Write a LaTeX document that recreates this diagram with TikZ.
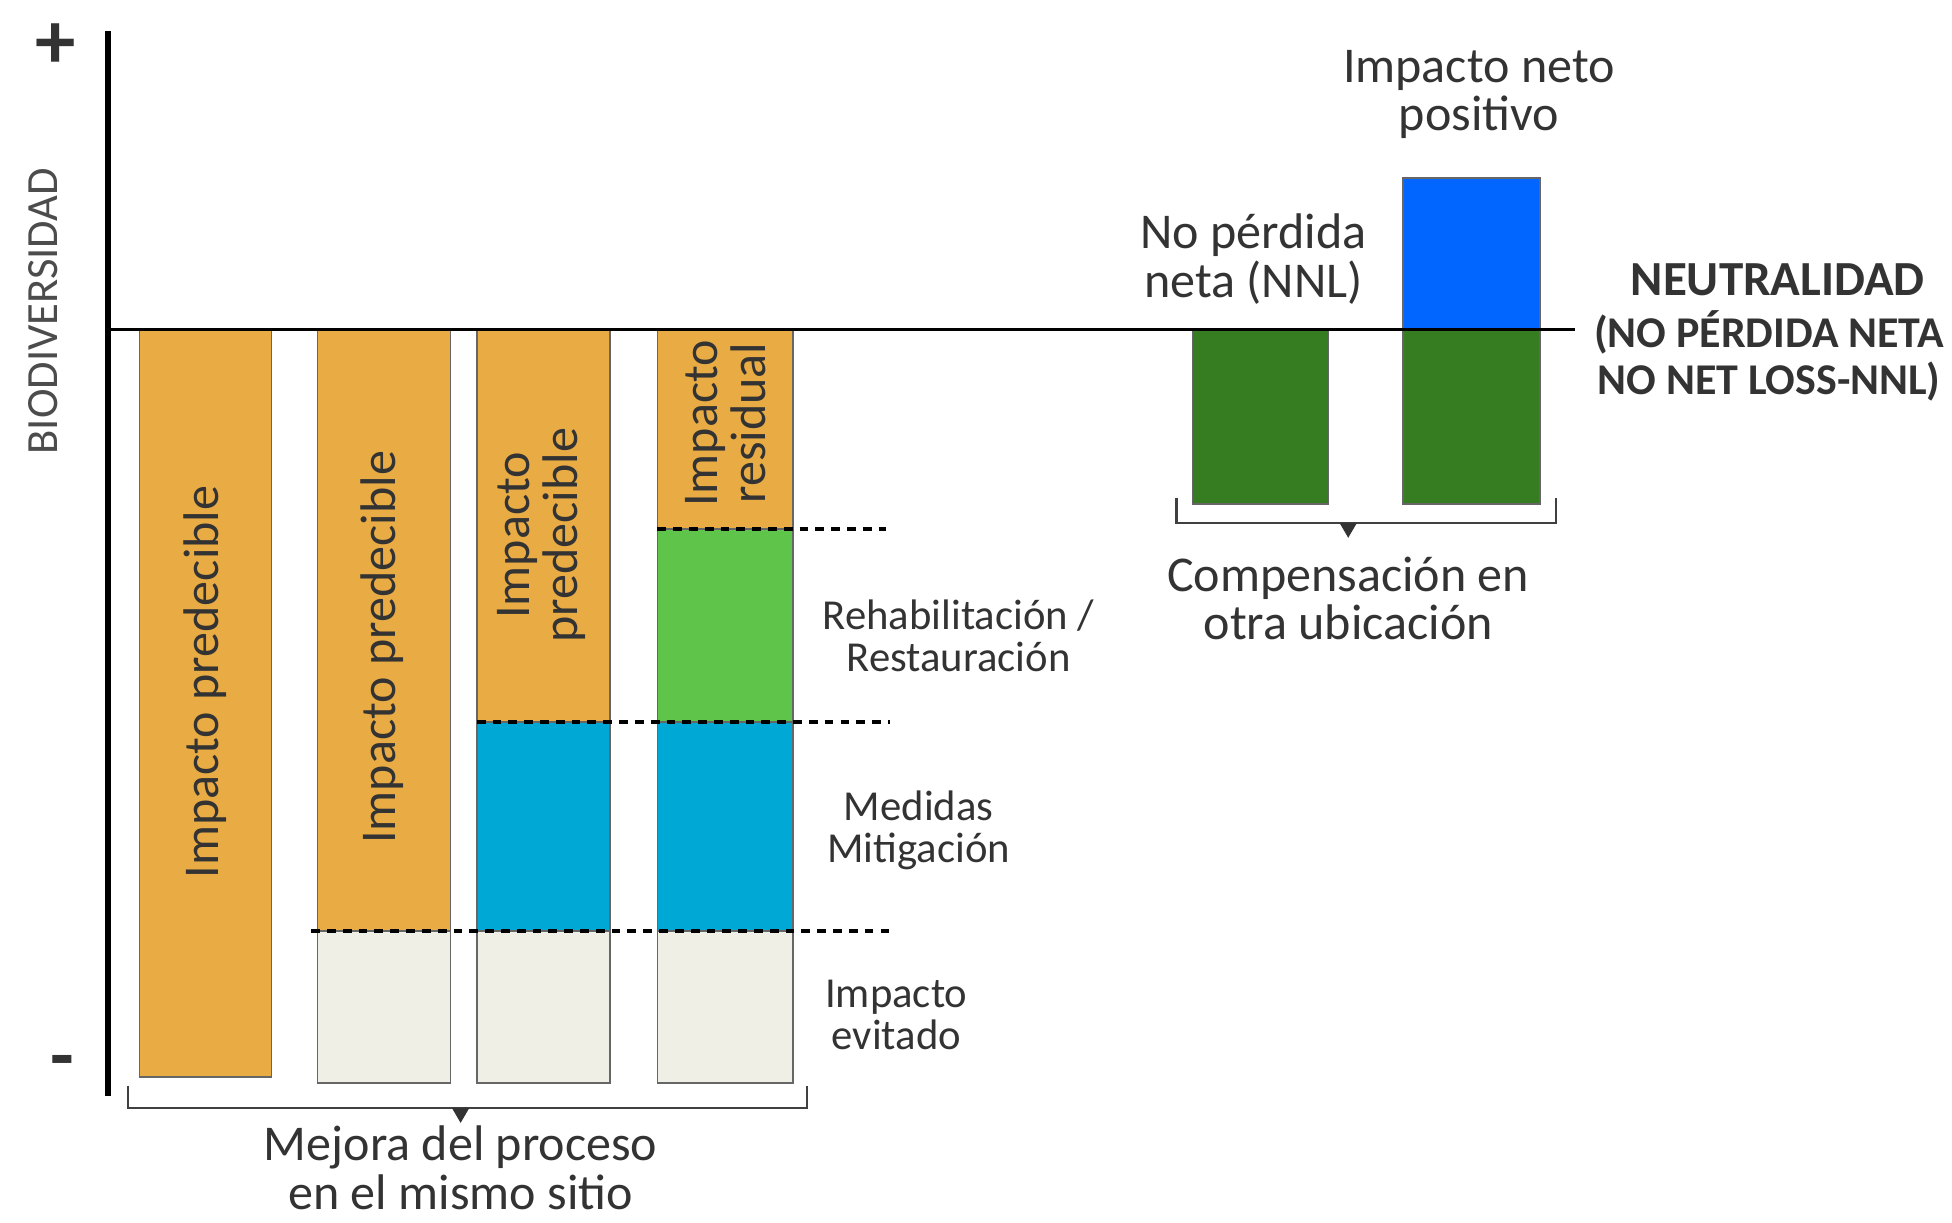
\documentclass[tikz,border=0pt]{standalone}
\usepackage{fontspec}
\setmainfont{Carlito}
\definecolor{impacto}{RGB}{233,172,69}
\definecolor{evitado}{RGB}{239,239,230}
\definecolor{mitigacion}{RGB}{0,168,214}
\definecolor{rehabilita}{RGB}{94,196,74}
\definecolor{compensa}{RGB}{54,125,34}
\definecolor{positivo}{RGB}{0,102,255}
\begin{document}
\begin{tikzpicture}[x=0.0249cm,y=-0.0249cm]
\tikzstyle{every node}=[font=\fontsize{28.5}{27.5}\selectfont, text=black!80, align=center, inner sep=0pt]
\tikzstyle{side}=[font=\fontsize{24.3}{24}\selectfont]
\tikzstyle{bar}=[draw=black!60, line width=0.8pt]
\tikzstyle{cut}=[line width=2.2pt, dash pattern=on 5pt off 4pt]
\tikzstyle{brace}=[draw=black!75, line width=1.3pt]
\useasboundingbox (0,0) rectangle (1568,982);
% bars, same site
\draw[bar,fill=impacto] (112,265) rectangle (218,865);
\draw[bar,fill=impacto] (255,265) rectangle (362,748);
\draw[bar,fill=evitado] (255,748) rectangle (362,870);
\draw[bar,fill=impacto] (383,265) rectangle (490,580);
\draw[bar,fill=mitigacion] (383,580) rectangle (490,748);
\draw[bar,fill=evitado] (383,748) rectangle (490,870);
\draw[bar,fill=impacto] (528,265) rectangle (637,425);
\draw[bar,fill=rehabilita] (528,425) rectangle (637,580);
\draw[bar,fill=mitigacion] (528,580) rectangle (637,748);
\draw[bar,fill=evitado] (528,748) rectangle (637,870);
% bars, other site
\draw[bar,fill=compensa] (958,265) rectangle (1067,405);
\draw[bar,fill=positivo] (1127,143) rectangle (1237,265);
\draw[bar,fill=compensa] (1127,265) rectangle (1237,405);
% levels
\draw[cut] (528,425) -- (712,425);
\draw[cut] (383,580) -- (715,580);
\draw[cut] (250,748) -- (715,748);
% axes
\draw[line width=3.4pt] (87,25) -- (87,880);
\draw[line width=1.8pt] (87,265) -- (1265,265);
\node (mas) at (45,37) {\fontsize{46}{46}\selectfont\bfseries +};
\node (menos) at (50,858) {\fontsize{44}{44}\selectfont\bfseries -};
\node (bio) [rotate=90, text=black!70, font=\fontsize{25.4}{26}\selectfont] at (35,250) {BIODIVERSIDAD};
% texts in bars
\node (p1) [rotate=90] at (165,548) {Impacto predecible};
\node (p2) [rotate=90] at (307,520) {Impacto predecible};
\node (p3) [rotate=90] at (435,430) {Impacto\\predecible};
\node (p4) [rotate=90] at (583,340) {Impacto\\residual};
% side labels
\node (rehab) [side] at (770,511) {Rehabilitación /\\Restauración};
\node (medidas) [side] at (738,667) {Medidas\\Mitigación};
\node (evit) [side] at (720,815) {Impacto\\evitado};
\node (nnl) at (1007,208) {No pérdida\\neta (NNL)};
\node (neto) at (1188,76) {Impacto neto\\positivo};
\node (neutral) [font=\fontsize{27.9}{28}\selectfont\bfseries] at (1428,225) {NEUTRALIDAD};
\node (neta) [font=\fontsize{25}{27}\selectfont\bfseries] at (1421,286) {(NO PÉRDIDA NETA\\NO NET LOSS-NNL)};
% braces
\draw[brace] (103,872) -- (103,890) -- (648,890) -- (648,872);
\fill[black!80] (363,890) -- (377,890) -- (370,902) -- cycle;
\node (mejora) at (370,938) {Mejora del proceso\\en el mismo sitio};
\draw[brace] (945,400) -- (945,420) -- (1250,420) -- (1250,400);
\fill[black!80] (1076,420) -- (1090,420) -- (1083,432) -- cycle;
\node (compens) at (1083,481) {Compensación en\\otra ubicación};
\end{tikzpicture}
\end{document}
